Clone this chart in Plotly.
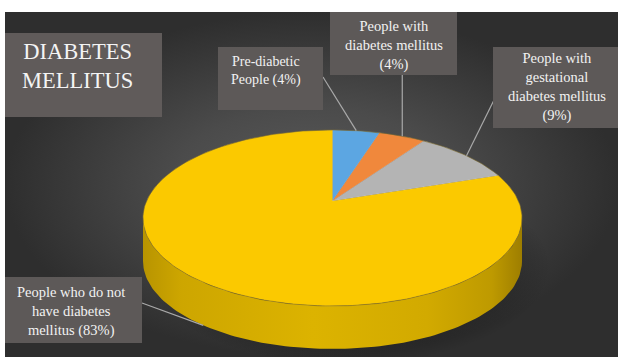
import numpy as np
import plotly.graph_objects as go

# ---------------- data ----------------
labels = ["Pre-diabetic People",
          "People with diabetes mellitus",
          "People with gestational diabetes mellitus",
          "People who do not have diabetes mellitus"]
label_text = ["Pre-diabetic<br>People ({p}%)",
              "People with<br>diabetes mellitus<br>({p}%)",
              "People with<br>gestational<br>diabetes mellitus<br>({p}%)",
              "People who do not<br>have diabetes<br>mellitus ({p}%)"]
values = [4, 4, 9, 83]
colors = ["#5ca6e2", "#f0883c", "#b4b4b4", "#fbc900"]
title_text = "DIABETES<br>MELLITUS"

# ---------------- layout geometry (pixels) ----------------
W, H = 618, 357
CX, CY, RX, RY = 332.5, 218.0, 189.5, 88.0
APEX_Y = 201.0
DEPTH = 43.0
SERIF = "'Liberation Serif', 'Times New Roman', Times, 'DejaVu Serif', serif"

def rim(theta, dy=0.0):
    t = np.radians(theta)
    return CX + RX * np.sin(t), CY - RY * np.cos(t) + dy

fig = go.Figure()

# background (radial gradient)
fig.add_trace(go.Scatter(
    x=[5, W, W, 5, 5], y=[12, 12, H, H, 12], mode="lines", fill="toself",
    line=dict(width=0), hoverinfo="skip",
    fillgradient=dict(type="radial",
                      colorscale=[[0, "#5a5a5a"], [0.45, "#4b4b4b"], [1, "#2e2e2e"]])))

# shadow under pie
th = np.linspace(0, 360, 181)
sx = CX + 14 + (RX + 14) * np.sin(np.radians(th))
sy = CY + DEPTH + 6 - (RY + 10) * np.cos(np.radians(th))
fig.add_trace(go.Scatter(
    x=sx, y=sy, mode="lines", fill="toself", line=dict(width=0), hoverinfo="skip",
    fillgradient=dict(type="radial",
                      colorscale=[[0, "rgba(0,0,0,0.35)"], [0.8, "rgba(0,0,0,0.2)"],
                                  [1, "rgba(0,0,0,0)"]])))

total = sum(values)
bounds = np.concatenate([[0], np.cumsum(values)]) / total * 360.0

# sides (only front half visible: 90..270 deg)
for i in range(len(values)):
    a0, a1 = max(bounds[i], 90.0), min(bounds[i + 1], 270.0)
    if a1 <= a0:
        continue
    t = np.linspace(a0, a1, 120)
    tx, ty = rim(t)
    bx, by = rim(t[::-1], DEPTH)
    fig.add_trace(go.Scatter(
        x=np.concatenate([tx, bx, tx[:1]]), y=np.concatenate([ty, by, ty[:1]]),
        mode="lines", fill="toself", line=dict(width=0), hoverinfo="skip",
        fillgradient=dict(type="horizontal",
                          colorscale=[[0, "#b89400"], [0.1, "#cda600"], [0.45, "#dcb300"],
                                      [0.75, "#d2aa00"], [0.92, "#be9a00"], [1, "#9e7e00"]])))

# top faces
for i in range(len(values)):
    t = np.linspace(bounds[i], bounds[i + 1], max(4, int(values[i] * 4)))
    rx_, ry_ = rim(t)
    xs = np.concatenate([[CX], rx_, [CX]])
    ys = np.concatenate([[APEX_Y], ry_, [APEX_Y]])
    fig.add_trace(go.Scatter(
        x=xs, y=ys, mode="lines", fill="toself", fillcolor=colors[i],
        line=dict(width=0.6, color="rgba(255,255,255,0.2)"), hoverinfo="skip"))

# top outline
ox, oy = rim(np.linspace(0, 360, 241))
fig.add_trace(go.Scatter(x=ox, y=oy, mode="lines",
                         line=dict(width=1, color="rgba(110,90,20,0.5)"), hoverinfo="skip"))

# label boxes (x0, y0, x1, y1), label text anchor, leader start and target angle
boxes = [(218, 47, 323, 110), (330, 12, 457, 75), (493, 47, 618, 128), (5, 277, 142, 343)]
text_pos = [(266, 70.5), (393.5, 45), (557, 87), (71, 311.5)]
font_sizes = [14, 14.5, 14.5, 14.5]
mids = [(bounds[i] + bounds[i + 1]) / 2 for i in range(len(values))]
leader_angles = [mids[0], mids[1], mids[2], 223.0]
leader_start = [(323, 77), (None, 75), (494, 100), (142, 303)]
leader_dy = [0, 0, 0, DEPTH]

for i in range(len(values)):
    ex, ey = rim(leader_angles[i], leader_dy[i])
    sx0, sy0 = leader_start[i]
    if sx0 is None:
        sx0 = ex
    fig.add_trace(go.Scatter(x=[sx0, ex], y=[sy0, ey], mode="lines",
                             line=dict(width=1.2, color="#a9a9a9"), hoverinfo="skip"))

shapes = [dict(type="rect", xref="x", yref="y", x0=5, y0=33, x1=162, y1=117,
               fillcolor="#605b5a", line=dict(width=0), layer="above")]
for (x0, y0, x1, y1) in boxes:
    shapes.append(dict(type="rect", xref="x", yref="y", x0=x0, y0=y0, x1=x1, y1=y1,
                       fillcolor="#5d5958", line=dict(width=0), layer="above"))

annotations = [dict(x=77, y=66, xref="x", yref="y", text=title_text, showarrow=False,
                    align="center", xanchor="center", yanchor="middle",
                    font=dict(family=SERIF, size=22.5, color="#f4f4f4"))]
for i in range(len(values)):
    annotations.append(dict(
        x=text_pos[i][0], y=text_pos[i][1], xref="x", yref="y",
        text=label_text[i].format(p=values[i]), showarrow=False,
        align="center", xanchor="center", yanchor="middle",
        font=dict(family=SERIF, size=font_sizes[i], color="#f2f2f2")))

fig.update_layout(
    width=W, height=H, autosize=False,
    margin=dict(l=0, r=0, t=0, b=0, pad=0),
    paper_bgcolor="white", plot_bgcolor="white",
    showlegend=False,
    font=dict(family=SERIF),
    xaxis=dict(range=[0, W], visible=False, fixedrange=True),
    yaxis=dict(range=[H, 0], visible=False, fixedrange=True),
    shapes=shapes, annotations=annotations,
    hovermode=False,
)

fig.write_html("out.html", config={"displayModeBar": False, "staticPlot": True})
